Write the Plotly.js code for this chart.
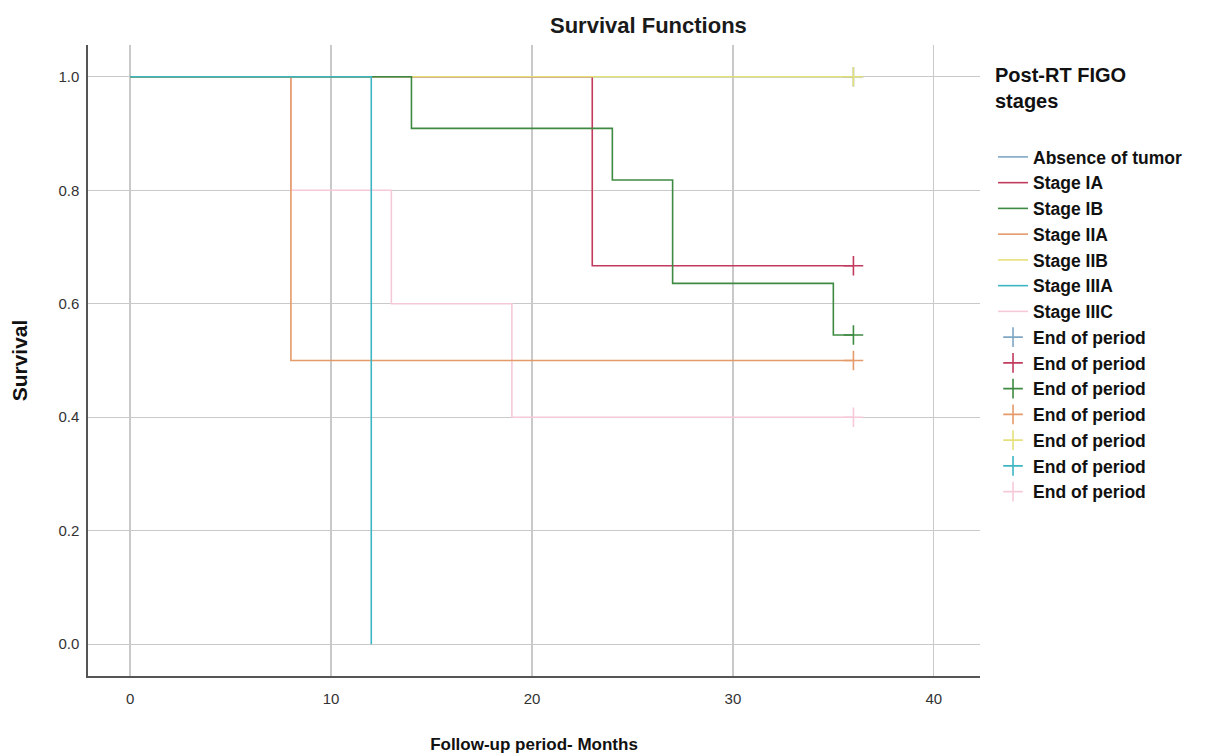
<!DOCTYPE html>
<html>
<head>
<meta charset="utf-8">
<script src="https://cdn.plot.ly/plotly-3.0.1.min.js"></script>
<style>html,body{margin:0;padding:0;background:#fff;}#chart{width:1212px;height:754px;}</style>
</head>
<body>
<div id="chart"></div>
<script>
// Kaplan-Meier step data (time in months, survival)
const groups = ["Absence of tumor", "Stage IA", "Stage IB", "Stage IIA", "Stage IIB", "Stage IIIA", "Stage IIIC"];
const colors = ["#7fa7c4", "#c23a5e", "#3f8a42", "#e59a6a", "#e6e07a", "#3db5c2", "#f6c9d8"];

const absenceT = [0, 36];      const absenceS = [1.0, 1.0];
const stageIAT = [0, 23, 36];  const stageIAS = [1.0, 0.667, 0.667];
const stageIBT = [0, 14, 24, 27, 35, 36]; const stageIBS = [1.0, 0.909, 0.818, 0.636, 0.545, 0.545];
const stageIIAT = [0, 8, 36];  const stageIIAS = [1.0, 0.5, 0.5];
const stageIIBT = [0, 36];     const stageIIBS = [1.0, 1.0];
const stageIIIAT = [0, 12];    const stageIIIAS = [1.0, 0.0];
const stageIIICT = [0, 8, 13, 19, 36]; const stageIIICS = [1.0, 0.8, 0.6, 0.4, 0.4];

// censored ("End of period") points
const censorT = [36, 36, 36, 36, 36, null, 36];
const censorS = [1.0, 0.667, 0.545, 0.5, 1.0, null, 0.4];

const times = [absenceT, stageIAT, stageIBT, stageIIAT, stageIIBT, stageIIIAT, stageIIICT];
const surv  = [absenceS, stageIAS, stageIBS, stageIIAS, stageIIBS, stageIIIAS, stageIIICS];

// drawing order (bottom to top), legend order kept by legendrank
const drawOrder = [0, 6, 3, 1, 4, 2, 5];
const font = "Liberation Sans, Arial, sans-serif";
const traces = [];
drawOrder.forEach(i => {
  traces.push({
    x: times[i], y: surv[i], type: "scatter", mode: "lines",
    line: {shape: "hv", color: colors[i], width: 1.6},
    name: groups[i], legendrank: i + 1
  });
});
drawOrder.forEach(i => {
  const hasCensor = censorT[i] !== null;
  traces.push({
    x: hasCensor ? [censorT[i]] : [null], y: hasCensor ? [censorS[i]] : [null],
    type: "scatter", mode: "markers",
    marker: {symbol: "cross-thin-open", size: 14, color: colors[i], line: {color: colors[i], width: 1.6}},
    name: "End of period", legendrank: 8 + i, showlegend: true
  });
});

const layout = {
  width: 1212, height: 754,
  margin: {l: 88, r: 232, t: 45, b: 78},
  paper_bgcolor: "#ffffff", plot_bgcolor: "#ffffff",
  font: {family: font, color: "#222"},
  title: {text: "<b>Survival Functions</b>", x: 0.535, xanchor: "center", y: 0.976, yanchor: "top",
          font: {family: font, size: 22, color: "#1a1a1a"}},
  xaxis: {
    range: [-2.1, 42.3], tickvals: [0, 10, 20, 30, 40], ticktext: ["0", "10", "20", "30", "40"],
    showgrid: true, gridcolor: "#c9c9c9", gridwidth: 1.4, zeroline: false,
    showline: true, linecolor: "#555", linewidth: 1.6, ticks: "", ticklabelstandoff: 8,
    tickfont: {family: font, size: 15, color: "#333"},
    title: {text: "<b>Follow-up period- Months</b>", font: {family: font, size: 17, color: "#111"}, standoff: 38}
  },
  yaxis: {
    range: [-0.056, 1.056], tickvals: [0, 0.2, 0.4, 0.6, 0.8, 1.0],
    ticktext: ["0.0", "0.2", "0.4", "0.6", "0.8", "1.0"],
    showgrid: true, gridcolor: "#c9c9c9", gridwidth: 1.4, zeroline: false,
    showline: true, linecolor: "#555", linewidth: 1.6, ticks: "", ticklabelstandoff: 4,
    tickfont: {family: font, size: 15, color: "#333"},
    title: {text: "<b>Survival</b>", font: {family: font, size: 21, color: "#111"}, standoff: 25}
  },
  showlegend: true,
  legend: {
    x: 1.0146, xanchor: "left", y: 0.851, yanchor: "top",
    font: {family: font, size: 17.5, color: "#111", weight: "bold"},
    bgcolor: "rgba(0,0,0,0)", tracegroupgap: 0, itemwidth: 30
  },
  annotations: [{
    text: "<b>Post-RT FIGO<br>stages</b>", xref: "paper", yref: "paper",
    x: 1.0146, y: 0.973, xanchor: "left", yanchor: "top", align: "left", showarrow: false,
    font: {family: font, size: 20, color: "#111"}
  }]
};

Plotly.newPlot("chart", traces, layout, {displayModeBar: false, staticPlot: true});
</script>
</body>
</html>
